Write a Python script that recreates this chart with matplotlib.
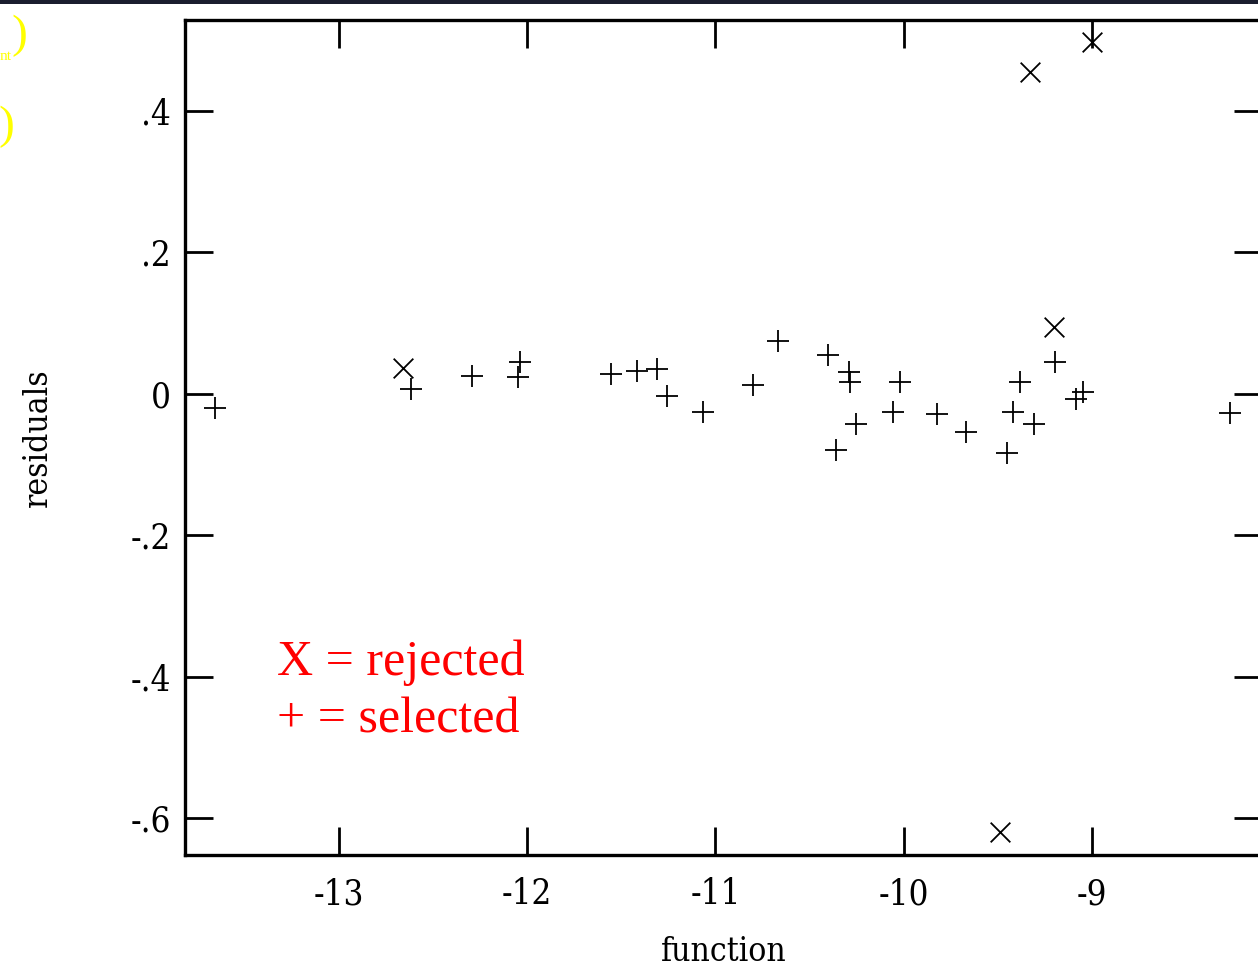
import matplotlib
matplotlib.use("Agg")
import matplotlib.pyplot as plt
from matplotlib.patches import Rectangle
from matplotlib import font_manager

# Fit residuals: accepted points (+) and rejected outliers (x)
selected_x = [-13.659, -12.618, -12.294, -12.039, -12.051, -11.557, -11.419,
              -11.313, -11.260, -11.065, -10.800, -10.670, -10.405, -10.291,
              -10.283, -10.256, -10.361, -10.021, -10.056, -9.821, -9.667,
              -9.449, -9.419, -9.380, -9.309, -9.194, -9.086, -9.047, -8.268]
selected_y = [-0.020, 0.007, 0.025, 0.045, 0.024, 0.028, 0.033,
              0.035, -0.003, -0.026, 0.013, 0.075, 0.055, 0.031,
              0.017, -0.042, -0.079, 0.017, -0.026, -0.028, -0.054,
              -0.084, -0.026, 0.017, -0.042, 0.045, -0.007, 0.003, -0.027]

rejected_x = [-12.662, -9.201, -9.327, -9.000, -9.490]
rejected_y = [0.037, 0.094, 0.455, 0.497, -0.619]

x_ticks = [-13, -12, -11, -10, -9]
x_tick_labels = ["-13", "-12", "-11", "-10", "-9"]
y_ticks = [-0.6, -0.4, -0.2, 0.0, 0.2, 0.4]
y_tick_labels = ["-.6", "-.4", "-.2", "0", ".2", ".4"]

plt.rcParams["font.family"] = ["Liberation Serif", "DejaVu Serif"]

# narrow serif for the axis annotations, if a condensed face is present
names = {f.name for f in font_manager.fontManager.ttflist}
axis_font = dict(family=["DejaVu Serif Condensed", "DejaVu Serif"], stretch="condensed") \
    if "DejaVu Serif Condensed" in names else dict(family=["DejaVu Serif"], stretch="condensed")

fig = plt.figure(figsize=(12.58, 9.67), dpi=100)
fig.patch.set_facecolor("white")

# thin dark strip along the top edge of the slide
fig.add_artist(Rectangle((0, 1 - 4 / 967), 1, 4 / 967, transform=fig.transFigure,
                         facecolor="#1a1d2e", edgecolor="none", zorder=0))

# slide text at the left edge
fig.text(0.0215, 1 - 36 / 967, ")", color="#ffff00", fontsize=34,
         ha="right", va="center")
fig.text(0.0, 1 - 57 / 967, "nt", color="#ffff00", fontsize=11,
         ha="left", va="center")
fig.text(0.011, 1 - 127 / 967, ")", color="#ffff00", fontsize=34,
         ha="right", va="center")

ax = fig.add_axes([185 / 1258, 1 - 855 / 967, (1262 - 185) / 1258, (855 - 20) / 967])
ax.set_xlim(-13.818, -8.097)
ax.set_ylim(-0.6516, 0.5286)

ax.scatter(selected_x, selected_y, marker="+", s=260, color="black",
           linewidths=1.3, zorder=3)
ax.scatter(rejected_x, rejected_y, marker="x", s=200, color="black",
           linewidths=1.3, zorder=3)

ax.set_xticks(x_ticks)
ax.set_xticklabels(x_tick_labels, fontsize=25, **axis_font)
ax.set_yticks(y_ticks)
ax.set_yticklabels(y_tick_labels, fontsize=25, **axis_font)

for side in ax.spines.values():
    side.set_linewidth(2.4)

ax.tick_params(axis="both", which="major", direction="in", length=20, width=2.0,
               top=True, right=True)
ax.tick_params(axis="x", pad=16)
ax.tick_params(axis="y", pad=10)

ax.set_xlabel("function", fontsize=24, labelpad=18, **axis_font)
ax.set_ylabel("residuals", fontsize=24, va="center", **axis_font)
ax.yaxis.set_label_coords(-0.1365, 0.5)

ax.text(0.085, 0.230, "X = rejected", transform=ax.transAxes, color="#ff0000",
        fontsize=36, ha="left", va="center")
ax.text(0.085, 0.161, "+ = selected", transform=ax.transAxes, color="#ff0000",
        fontsize=36, ha="left", va="center")

fig.savefig("out.png", dpi=100)
